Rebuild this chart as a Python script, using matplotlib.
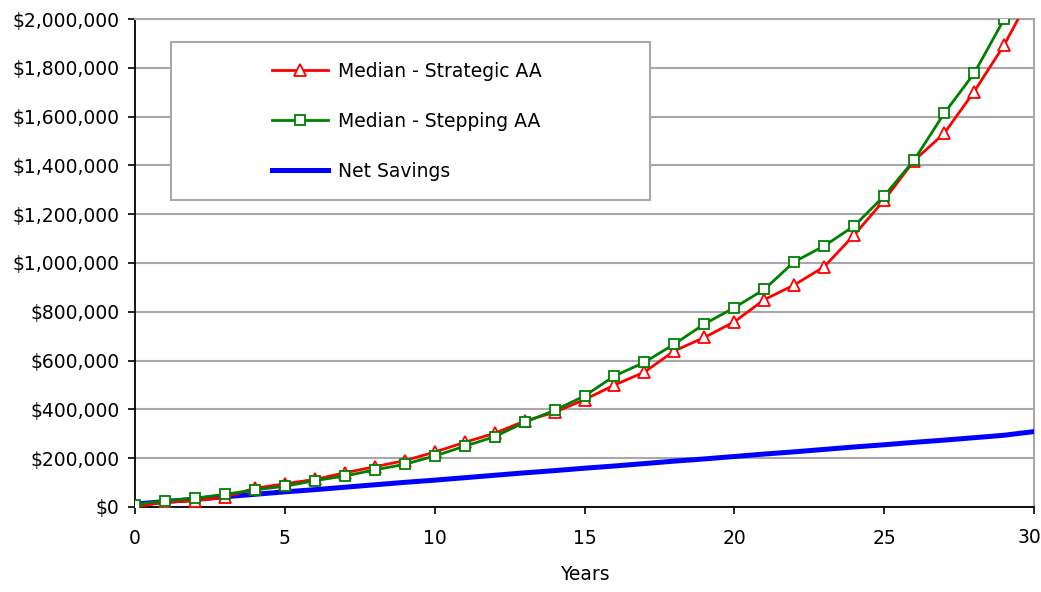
import matplotlib
matplotlib.use("Agg")
import matplotlib.pyplot as plt
import matplotlib.patches as patches
from matplotlib.ticker import FuncFormatter, MultipleLocator

plt.rcParams['font.family'] = ['DejaVu Sans']

# Data
years = list(range(0, 31))

strategic = [0, 20000, 25000, 40000, 77000, 95000, 113000, 140000, 165000, 190000,
             225000, 265000, 302000, 352000, 388000, 440000, 500000, 553000, 640000, 695000,
             759000, 850000, 910000, 985000, 1115000, 1258000, 1420000, 1531000, 1702000, 1893000,
             2120000]

stepping = [10000, 26000, 36000, 52000, 70000, 85000, 108000, 127000, 152000, 175000,
            209000, 249000, 288000, 347000, 396000, 455000, 537000, 593000, 668000, 750000,
            817000, 892000, 1005000, 1070000, 1152000, 1275000, 1422000, 1613000, 1777000, 1999000,
            2200000]

net_savings = [12000, 22000, 32000, 42000, 52000, 62000, 71000, 81000, 91000, 101000,
               110000, 120000, 130000, 140000, 149000, 159000, 168000, 178000, 188000, 197000,
               207000, 217000, 226000, 236000, 246000, 255000, 265000, 274000, 284000, 294000,
               309000]

x_ticks = [0, 5, 10, 15, 20, 25, 30]

fs = 13.5

fig = plt.figure(figsize=(10.41, 5.92), dpi=100)
ax = fig.add_axes([0.1297, 0.1436, 0.8636, 0.8243])

ax.plot(years, net_savings, color='#0000FF', lw=3.6, label='Net Savings', zorder=3)
ax.plot(years, strategic, color='#FF0000', lw=2.0, marker='^', ms=8, mfc='white',
        mec='#FF0000', mew=1.3, label='Median - Strategic AA', zorder=4)
ax.plot(years, stepping, color='#008000', lw=2.0, marker='s', ms=7.5, mfc='white',
        mec='#008000', mew=1.3, label='Median - Stepping AA', zorder=5)

ax.set_xlim(0, 30)
ax.set_ylim(0, 2000000)
# last label is drawn separately so it stays inside the figure
ax.set_xticks(x_ticks, [str(t) for t in x_ticks[:-1]] + [''])
ax.annotate(str(x_ticks[-1]), xy=(x_ticks[-1], 0), xycoords=('data', 'axes fraction'),
            xytext=(5, -15), textcoords='offset points', ha='right', va='top',
            fontsize=fs)
ax.yaxis.set_major_locator(MultipleLocator(200000))
ax.yaxis.set_major_formatter(FuncFormatter(lambda v, p: '${:,.0f}'.format(v)))

ax.grid(axis='y', color='#a8a8a8', lw=1.5, zorder=0)
ax.set_axisbelow(True)
for s in ['top', 'right']:
    ax.spines[s].set_color('#a8a8a8')
    ax.spines[s].set_linewidth(1.5)
for s in ['left', 'bottom']:
    ax.spines[s].set_color('black')
    ax.spines[s].set_linewidth(1.3)

ax.tick_params(axis='both', direction='out', length=5, width=1.2, labelsize=fs,
               colors='black')
ax.tick_params(axis='y', pad=6)
ax.tick_params(axis='x', pad=11)
ax.set_xlabel('Years', fontsize=fs, labelpad=12)

# legend box
box = patches.Rectangle((0.040, 0.629), 0.533, 0.324, transform=ax.transAxes,
                        facecolor='white', edgecolor='#a8a8a8', lw=1.5, zorder=6)
ax.add_patch(box)

h, l = ax.get_legend_handles_labels()
order = [1, 2, 0]
leg = ax.legend([h[i] for i in order], [l[i] for i in order], loc='upper left',
                bbox_to_anchor=(0.1524, 0.912), frameon=False, fontsize=fs,
                handlelength=3.0, handletextpad=0.5, labelspacing=1.65,
                borderaxespad=0, borderpad=0)
leg.set_zorder(7)

fig.savefig('out.png', dpi=100)
